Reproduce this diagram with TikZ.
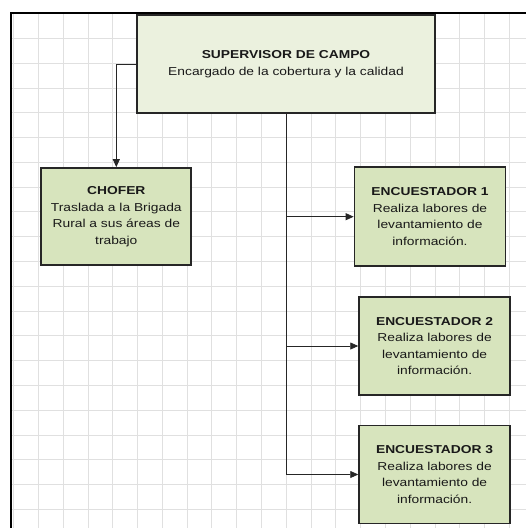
\documentclass[tikz,border=0pt]{standalone}
\usepackage{fontspec}
\setmainfont{Liberation Sans}[FakeStretch=1.2]
\usetikzlibrary{arrows.meta}
\definecolor{supfill}{HTML}{EBF1DE}
\definecolor{boxfill}{HTML}{D7E4BD}
\definecolor{gridgray}{HTML}{E0E0E0}
\tikzset{
  box/.style={draw=black!85, line width=1.7pt, fill=boxfill, inner sep=0pt,
    align=center, text=black!90, font=\fontsize{11.5}{16.6}\selectfont},
  gridline/.style={draw=gridgray, line width=0.9pt},
  link/.style={draw=black!85, line width=0.8pt, -{Triangle[length=8pt,width=7pt]}}
}
\begin{document}
\begin{tikzpicture}[x=1pt,y=-1pt]
      \useasboundingbox (0,0) rectangle (526,528);
      \begin{scope}
        \clip (11.3,12.5) rectangle (526,528);
        \foreach \k in {0,...,21}
          \draw[gridline] ({13.7+24.78*\k},12) -- ({13.7+24.78*\k},528)
                          (11,{13.7+24.78*\k}) -- (526,{13.7+24.78*\k});
      \end{scope}
      \draw[line width=2pt] (11.3,540) -- (11.3,12.5) -- (540,12.5);
      \draw
        (286,64) node[box, fill=supfill, minimum width=298pt, minimum height=98pt] (sup)
          {\textbf{SUPERVISOR DE CAMPO}\\Encargado de la cobertura y la calidad}
        (116.3,216.5) node[box, minimum width=150pt, minimum height=97pt] (chofer)
          {\textbf{CHOFER}\\Traslada a la Brigada\\Rural a sus áreas de\\trabajo}
        (430,216.7) node[box, minimum width=151pt, minimum height=99pt] (enc1)
          {\textbf{ENCUESTADOR 1}\\Realiza labores de\\levantamiento de\\información.}
        (434.6,346) node[box, minimum width=151pt, minimum height=98pt] (enc2)
          {\textbf{ENCUESTADOR 2}\\Realiza labores de\\levantamiento de\\información.}
        (434.6,474.5) node[box, minimum width=151pt, minimum height=98pt] (enc3)
          {\textbf{ENCUESTADOR 3}\\Realiza labores de\\levantamiento de\\información.};
      \begin{scope}[link]
        \draw (sup.west) -| (chofer.north);
        \draw (sup.south) |- (enc3.west);
        \draw (sup.south |- enc1.west) -- (enc1.west);
        \draw (sup.south |- enc2.west) -- (enc2.west);
      \end{scope}
    \end{tikzpicture}
\end{document}
